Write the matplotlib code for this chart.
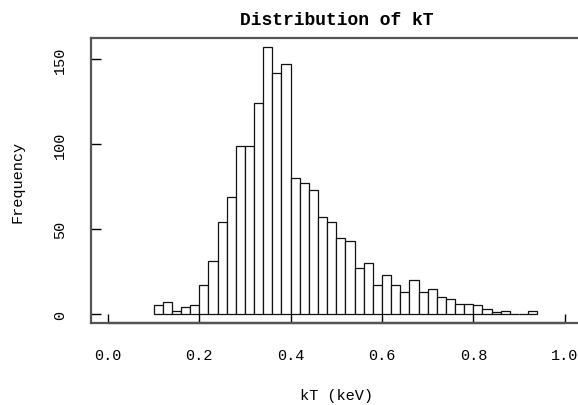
import numpy as np
import matplotlib
matplotlib.use("Agg")
import matplotlib.pyplot as plt

# histogram of kT, bins 0.02 wide starting at 0.10
bin_start = 0.10
bin_width = 0.02
counts = [5, 7, 2, 4, 5, 17, 31, 54, 69, 99, 99, 124, 157, 142, 147,
          80, 77, 73, 57, 54, 45, 43, 27, 30, 17, 23, 17, 13, 20, 13,
          15, 10, 9, 6, 6, 5, 3, 1, 2, 0, 0, 2]
x_ticks = [0.0, 0.2, 0.4, 0.6, 0.8, 1.0]
y_ticks = [0, 50, 100, 150]

edges = bin_start + bin_width * np.arange(len(counts))

plt.rcParams['font.family'] = ['Liberation Mono', 'DejaVu Sans Mono']

W, H = 578, 406
fig = plt.figure(figsize=(W / 100, H / 100), dpi=100)
ax = fig.add_axes([91 / W, (H - 324) / H, (583 - 91) / W, (324 - 39) / H])

ax.bar(edges, counts, width=bin_width, align='edge', color='white',
       edgecolor='#111111', linewidth=0.9)

ax.set_xlim(-0.037, 1.04)
ax.set_ylim(-5.3, 162.4)

for s in ax.spines.values():
    s.set_color('#555555')
    s.set_linewidth(1.6)
ax.spines['right'].set_visible(False)
# R style axis line between first and last tick
ax.plot([x_ticks[0], x_ticks[-1]], [-5.3, -5.3], color='black', lw=1.6,
        clip_on=False, solid_capstyle='butt')

ax.set_xticks(x_ticks)
ax.set_xticklabels(['%.1f' % v for v in x_ticks])
ax.set_yticks(y_ticks)
ax.set_yticklabels([str(v) for v in y_ticks], rotation=90, va='center')
ax.tick_params(axis='x', direction='in', length=6.5, width=1, pad=18,
               labelsize=11, colors='black')
ax.tick_params(axis='y', direction='in', length=7.5, width=1, pad=17,
               labelsize=11, colors='black')

ax.set_title('Distribution of kT', fontsize=13, fontweight='bold', pad=10)
ax.set_xlabel('kT (keV)', fontsize=11, labelpad=19)
ax.set_ylabel('Frequency', fontsize=11, labelpad=21)

fig.savefig('out.png', dpi=100)
